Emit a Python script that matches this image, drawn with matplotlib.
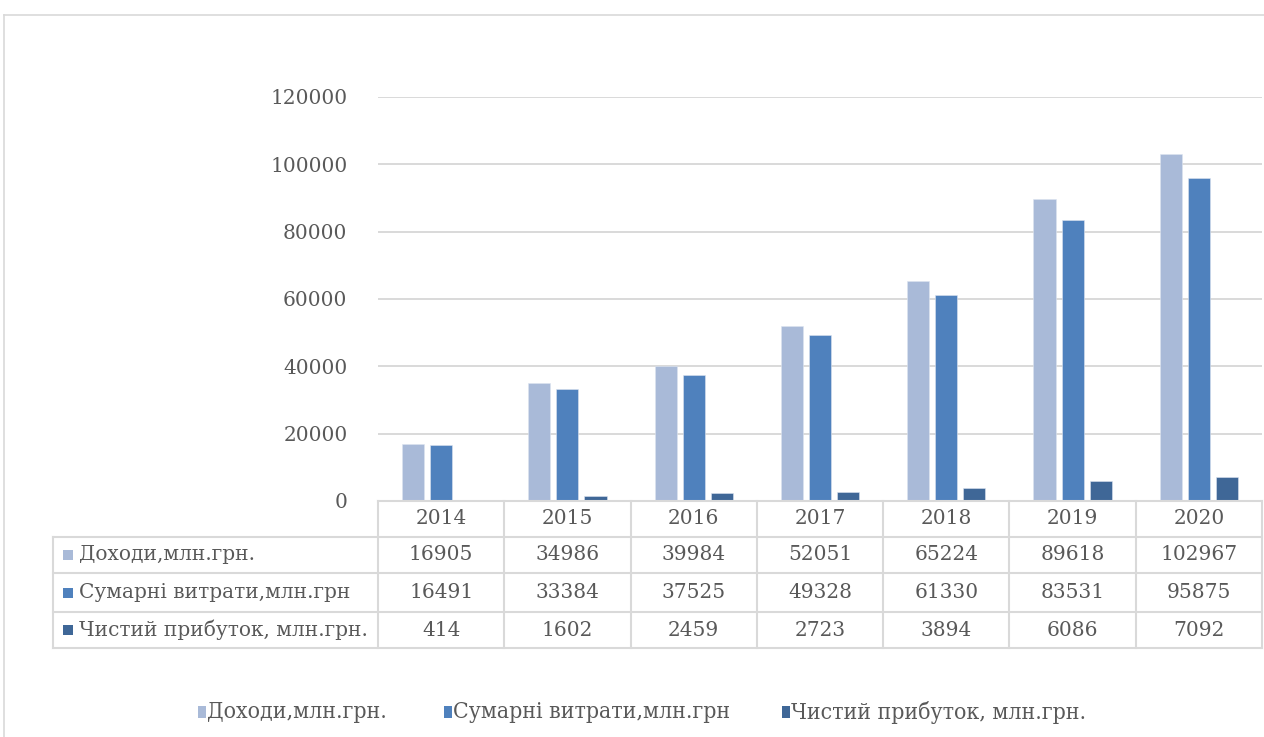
import matplotlib
matplotlib.use("Agg")
import matplotlib.pyplot as plt
from matplotlib.patches import Rectangle
from matplotlib.lines import Line2D
import numpy as np

years = ["2014", "2015", "2016", "2017", "2018", "2019", "2020"]
income = [16905, 34986, 39984, 52051, 65224, 89618, 102967]
expenses = [16491, 33384, 37525, 49328, 61330, 83531, 95875]
net_profit = [414, 1602, 2459, 2723, 3894, 6086, 7092]
series_names = ["Доходи,млн.грн.", "Сумарні витрати,млн.грн", "Чистий прибуток, млн.грн."]
colors = ["#A9BAD8", "#4F81BD", "#3F6797"]
y_ticks = [0, 20000, 40000, 60000, 80000, 100000, 120000]

W, H = 1264, 737
fig = plt.figure(figsize=(W / 100, H / 100), dpi=100)
plt.rcParams["font.family"] = ["DejaVu Serif"]
text_color = "#595959"
grid_color = "#D9D9D9"

def fx(px):
    return px / W

def fy(py):
    return 1 - py / H

# plot area
ax_l, ax_r, ax_t, ax_b = 378, 1262, 97, 501
ax = fig.add_axes([fx(ax_l), fy(ax_b), fx(ax_r - ax_l), fy(ax_t) - fy(ax_b)])
ax.set_xlim(-0.5, len(years) - 0.5)
ax.set_ylim(0, 120000)
ax.set_yticks(y_ticks)
ax.set_yticklabels([str(v) for v in y_ticks])
ax.tick_params(axis="y", length=0, pad=22, labelsize=14.5, labelcolor=text_color)
ax.tick_params(axis="x", length=0, labelbottom=False)
ax.grid(axis="y", color=grid_color, linewidth=1.4)
ax.set_axisbelow(True)
for s in ax.spines.values():
    s.set_visible(False)

x = np.arange(len(years))
bw = 0.175
step = 0.222
for i, (vals, c) in enumerate(zip([income, expenses, net_profit], colors)):
    ax.bar(x + (i - 1) * step, vals, width=bw, color=c, edgecolor="#DCE4F0",
           linewidth=0.4, zorder=3)

# data table below the plot
col_w = (ax_r - ax_l) / len(years)
row_edges = [501, 537, 573, 612, 648]
label_left = 53
lw = 1.5
# horizontal lines
fig.add_artist(Line2D([fx(ax_l), fx(ax_r)], [fy(501), fy(501)], color=grid_color, lw=lw))
for yy in row_edges[1:]:
    fig.add_artist(Line2D([fx(label_left), fx(ax_r)], [fy(yy), fy(yy)], color=grid_color, lw=lw))
# vertical lines
for k in range(len(years) + 1):
    xx = ax_l + k * col_w
    fig.add_artist(Line2D([fx(xx), fx(xx)], [fy(501), fy(648)], color=grid_color, lw=lw))
fig.add_artist(Line2D([fx(label_left), fx(label_left)], [fy(537), fy(648)], color=grid_color, lw=lw))

fs = 14.5
for k, yr in enumerate(years):
    cx = ax_l + (k + 0.5) * col_w
    fig.text(fx(cx), fy((row_edges[0] + row_edges[1]) / 2), yr, ha="center", va="center",
             fontsize=fs, color=text_color)
for r, (name, vals, c) in enumerate(zip(series_names, [income, expenses, net_profit], colors)):
    cy = (row_edges[r + 1] + row_edges[r + 2]) / 2
    fig.add_artist(Rectangle((fx(63), fy(cy + 5)), fx(10), fy(cy - 5) - fy(cy + 5),
                             facecolor=c, edgecolor="none"))
    fig.text(fx(79), fy(cy), name, ha="left", va="center", fontsize=fs, color=text_color)
    for k, v in enumerate(vals):
        cx = ax_l + (k + 0.5) * col_w
        fig.text(fx(cx), fy(cy), str(v), ha="center", va="center", fontsize=fs, color=text_color)

# legend
leg_y = 712
leg_items = [(198, 207), (444, 453), (782, 791)]
for (sq, tx), name, c in zip(leg_items, series_names, colors):
    fig.add_artist(Rectangle((fx(sq), fy(leg_y + 6)), fx(8), fy(leg_y - 6) - fy(leg_y + 6),
                             facecolor=c, edgecolor="none"))
    fig.text(fx(tx), fy(leg_y), name, ha="left", va="center", fontsize=16.5,
             color=text_color, fontstretch="condensed")

# chart frame
fig.add_artist(Line2D([fx(3.5), fx(3.5)], [fy(14.5), 0], color=grid_color, lw=1.2))
fig.add_artist(Line2D([fx(3.5), 1], [fy(14.5), fy(14.5)], color=grid_color, lw=1.2))

fig.savefig("out.png", dpi=100, facecolor="white")
